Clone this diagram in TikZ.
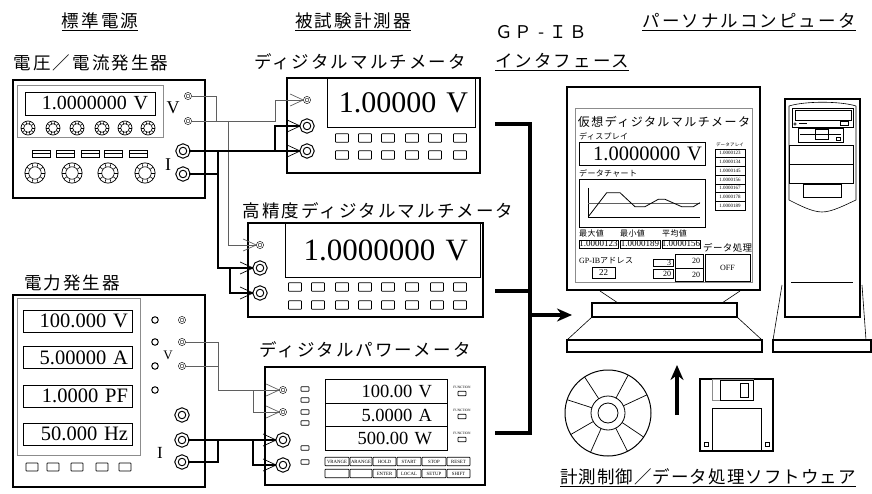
\documentclass[tikz,border=0pt]{standalone}
\usepackage{fontspec}
\setmainfont{Liberation Serif}
\newfontfamily\jpfont{Noto Sans CJK JP}[LetterSpace=12]
\newfontfamily\jpnarrow{Noto Sans CJK JP}[LetterSpace=4]
\usetikzlibrary{arrows.meta}
\definecolor{wiregray}{RGB}{95,95,95}
\definecolor{panelgray}{RGB}{140,140,140}

\tikzset{
  knob/.pic={
    \draw[line width=0.7pt] (0,0) circle (7);
    \draw[line width=0.6pt] (0,0) circle (4.3);
    \foreach \a in {0,36,...,324} \draw[line width=0.6pt] (\a:4.3) -- (\a:7);
  },
  slider/.pic={
    \draw[line width=0.6pt] (-9,-3.5) rectangle (9,3.5);
    \draw[line width=0.6pt] (-9,0) -- (9,0);
  }
}

\begin{document}
\begin{tikzpicture}[
    x=1pt,y=-1pt,
    title/.style={font=\jpfont\fontsize{17.5pt}{20pt}\selectfont,inner sep=0pt},
    uitext/.style={font=\jpnarrow\fontsize{8pt}{9pt}\selectfont,inner sep=0pt,anchor=west},
    devbox/.style={draw,line width=1.6pt,inner sep=0pt},
    panel/.style={draw=panelgray,line width=0.6pt},
    lcd/.style={draw,line width=0.8pt,inner sep=0pt,align=right},
    key/.style={draw,line width=0.6pt,rounded corners=0.6pt,inner sep=0pt},
    led/.style={draw,line width=0.7pt,rounded corners=0.6pt,minimum width=8,minimum height=4.5,inner sep=0pt},
    cell/.style={draw,line width=0.5pt,inner sep=0pt},
    smallterm/.style={circle,draw,double,double distance=0.9pt,line width=0.55pt,minimum size=5.5,inner sep=0pt},
    bigterm/.style={circle,draw,double,double distance=2pt,line width=1.1pt,minimum size=11,inner sep=0pt},
    openterm/.style={circle,draw,line width=1pt,minimum size=6.5,inner sep=0pt},
    vwire/.style={draw=wiregray,line width=0.8pt},
    iwire/.style={draw,line width=1.8pt},
    inlet/.style={-{Straight Barb[length=13pt,width=12pt,line width=0.7pt]}},
    bus/.style={line width=3.2pt},
    tinytext/.style={font=\fontsize{4.8pt}{5pt}\selectfont,inner sep=0pt}
  ]
  \useasboundingbox (0,0) rectangle (872,494);

  \node[title] (hdSource) at (100,22) {\underline{標準電源}};
  \node[title] (hdTarget) at (353,22) {\underline{被試験計測器}};
  \node[title,anchor=west] (hdBus) at (495,32) {ＧＰ\makebox[1em]{-}ＩＢ};
  \node[title,anchor=west] (hdBus2) at (495,62) {\underline{インタフェース}};
  \node[title] (hdPc) at (749,22) {\underline{パーソナルコンピュータ}};
  \node[title] (hdSoft) at (708,478) {\addfontfeature{LetterSpace=6}\underline{計測制御／データ処理ソフトウェア}};

  \node[title] (lbVgen) at (91,63) {電圧／電流発生器};
  \node[title] (lbDmm) at (360,62) {ディジタルマルチメータ};
  \node[title] (lbHp) at (378,211) {高精度ディジタルマルチメータ};
  \node[title] (lbPgen) at (72,283) {電力発生器};
  \node[title] (lbPm) at (365,350) {ディジタルパワーメータ};

  \node[devbox,minimum width=192,minimum height=118] (vgen) at (109,139) {};
  \draw[panel] (17,85) rectangle (163,137);
  \node[lcd,minimum width=130,minimum height=23,text width=116,font=\fontsize{20pt}{20pt}\selectfont] (vgenLcd) at (90,103.5) {1.0000000 V};
  \foreach \kx in {28,53,77,102,125,148} \pic at (\kx,128) {knob};
  \foreach \kx in {41,65,90,113,138} \pic at (\kx,153.5) {slider};
  \foreach \kx in {35,72,108,145} \pic[scale=1.45] at (\kx,173) {knob};
  \node[font=\fontsize{18pt}{18pt}\selectfont] at (173,108) {V};
  \node[font=\fontsize{18pt}{18pt}\selectfont] at (168,165) {I};
  \node[smallterm] (gvVa) at (188,96) {};
  \node[smallterm] (gvVb) at (188,121) {};
  \node[bigterm] (gvIa) at (183,151) {};
  \node[bigterm] (gvIb) at (183,174) {};

  \node[devbox,minimum width=193,minimum height=95] (dmm) at (383.5,125.5) {};
  \node[lcd,minimum width=148,minimum height=49,text width=134,font=\fontsize{30pt}{30pt}\selectfont] (dmmLcd) at (401,102.5) {1.00000 V};
  \foreach \bx in {342,365,388,412,435,460} \foreach \by in {138,155} \node[key,minimum width=13,minimum height=8.5] at (\bx,\by) {};
  \node[smallterm] (dmV) at (307,100) {};
  \node[bigterm] (dmIa) at (307,126) {};
  \node[bigterm] (dmIb) at (307,151) {};

  \node[devbox,minimum width=235,minimum height=94] (hpdmm) at (365.5,270) {};
  \node[lcd,minimum width=195,minimum height=54,text width=171,font=\fontsize{31pt}{31pt}\selectfont] (hpLcd) at (382.5,250) {1.0000000 V};
  \foreach \bx in {295,318,342,365,388,412,437,460} \foreach \by in {287,305} \node[key,minimum width=13,minimum height=8.5] at (\bx,\by) {};
  \node[smallterm] (hpV) at (260,245) {};
  \node[bigterm] (hpIa) at (260,268) {};
  \node[bigterm] (hpIb) at (260,293) {};

  \node[devbox,minimum width=192,minimum height=192] (pgen) at (109,391) {};
  \draw[panel] (17,298) rectangle (140,455);
  \foreach \ly/\txt in {321/100.000 V,357.5/5.00000 A,396/1.0000 PF,434/50.000 Hz}
    \node[lcd,minimum width=109,minimum height=22,text width=101,font=\fontsize{20.5pt}{20.5pt}\selectfont] at (77.5,\ly) {\txt};
  \foreach \bx in {32,53,77,102,125} \node[key,minimum width=12,minimum height=8] at (\bx,467) {};
  \foreach \ty in {320,342,366,390} \node[openterm] at (155,\ty) {};
  \node[smallterm] (pgVo) at (182,320) {};
  \node[smallterm] (pgVa) at (182,342) {};
  \node[smallterm] (pgVb) at (182,366) {};
  \node[font=\fontsize{13pt}{13pt}\selectfont] at (168,355) {V};
  \node[bigterm] (pgIa) at (182,415) {};
  \node[bigterm] (pgIb) at (182,440) {};
  \node[bigterm] (pgIc) at (182,462) {};
  \node[font=\fontsize{17pt}{17pt}\selectfont] at (160,453) {I};

  \node[devbox,minimum width=220,minimum height=118] (pmeter) at (375,426) {};
  \foreach \ly/\txt in {391.5/100.00 V,415/5.0000 A,438.5/500.00 W}
    \node[lcd,minimum width=122,minimum height=23.5,text width=92,font=\fontsize{18.5pt}{18.5pt}\selectfont] at (386,\ly) {\txt};
  \foreach \ly in {389,400,412,423,448,462} \node[led] at (305,\ly) {};
  \foreach \ly in {387,410,433} {
    \node[tinytext,font=\fontsize{3.4pt}{4pt}\selectfont] at (462,\ly) {FUNCTION};
    \node[led] at (462,\ly+6.5) {};
  }
  \foreach \xa/\xb/\txt in {325/349/VRANGE,350/372/ARANGE,373/396/HOLD,397/421/START,422/446/STOP,447/470/RESET}
    \node[key,tinytext,minimum width={\xb-\xa},minimum height=8.5] at ({(\xa+\xb)/2},461.5) {\txt};
  \foreach \xa/\xb/\txt in {325/349/{},350/372/{},373/396/ENTER,397/421/LOCAL,422/446/SETUP,447/470/SHIFT}
    \node[key,tinytext,minimum width={\xb-\xa},minimum height=8.5] at ({(\xa+\xb)/2},473.5) {\txt};
  \node[smallterm] (pmVa) at (283,390) {};
  \node[smallterm] (pmVb) at (283,412) {};
  \node[bigterm] (pmIa) at (283,440) {};
  \node[bigterm] (pmIb) at (283,465) {};

  \draw[vwire] (gvVa.east) -| (216,121);
  \draw[vwire,inlet] (gvVb.east) -- (275,121) |- (dmV);
  \draw[vwire,inlet] (228,121) |- (hpV);
  \draw[iwire,inlet] (gvIa.east) -- (dmIb);
  \draw[iwire,inlet] (275,151) |- (dmIa);
  \draw[iwire] (gvIb.east) -- (218,174);
  \draw[iwire,inlet] (218,151) |- (hpIa);
  \draw[iwire,inlet] (230,268) |- (hpIb);

  \draw[vwire,inlet] (pgVa.east) -| (218,390) -- (pmVa);
  \draw[vwire] (pgVb.east) -- (218,366);
  \draw[vwire,inlet] (253,390) |- (pmVb);
  \draw[iwire,inlet] (pgIb.east) -- (pmIa);
  \draw[iwire] (pgIc.east) -| (218,440);
  \draw[iwire,inlet] (253,440) |- (pmIb);

  \coordinate (busA) at (495,124);
  \coordinate (busB) at (495,291);
  \coordinate (busC) at (495,433);
  \coordinate (busJ) at (530,315);
  \coordinate (busEnd) at (572,315);
  \draw[bus] (busA) -- (530,124) -- (530,433) -- (busC);
  \draw[bus] (busB) -- (530,291);
  \draw[bus,-{Stealth[length=15pt,width=13pt]}] (busJ) -- (busEnd);

  \node[devbox,line width=1.8pt,minimum width=193,minimum height=203] (monitor) at (663.5,188.5) {};
  \draw[panel] (575,108) rectangle (752,282);
  \node[font=\jpfont\fontsize{12pt}{14pt}\selectfont,inner sep=0pt] at (664,122) {仮想ディジタルマルチメータ};
  \node[uitext] at (579,136) {ディスプレイ};
  \node[lcd,minimum width=126,minimum height=23,text width=120,font=\fontsize{20.5pt}{20.5pt}\selectfont] (pcLcd) at (642,153.5) {1.0000000 V};
  \node[font=\jpnarrow\fontsize{4.5pt}{5pt}\selectfont,inner sep=0pt] at (730,145) {データアレイ};
  \foreach \v [count=\k] in {1.0000123,1.0000134,1.0000145,1.0000156,1.0000167,1.0000178,1.0000189}
    \node[cell,minimum width=30,minimum height=8.7,font=\fontsize{5pt}{5pt}\selectfont] at (730,{149+8.7*(\k-0.5)}) {\v};
  \node[uitext] at (579,173) {データチャート};
  \draw[line width=0.8pt] (579,179) rectangle (705,227);
  \draw[line width=0.8pt] (588,188) -- (588,217) -- (700,217);
  \draw[wiregray,line width=0.8pt] (588,203.3) -- (700,203.3);
  \draw[line width=0.8pt] (588.3,216.7) -- (606.7,192.7) -- (620,192.7) -- (635,206.7) -- (645,206.7) -- (658.3,199.3) -- (665,199.3) -- (681.7,206.7) -- (693.3,206.7) -- (700,202.7);
  \node[uitext] at (579,233) {最大値};
  \node[uitext] at (620,233) {最小値};
  \node[uitext] at (662,233) {平均値};
  \node[cell,minimum width=39,minimum height=8,font=\fontsize{9pt}{9pt}\selectfont] at (598.5,244) {1.0000123};
  \node[cell,minimum width=40,minimum height=8,font=\fontsize{9pt}{9pt}\selectfont] at (640,244) {1.0000189};
  \node[cell,minimum width=38,minimum height=8,font=\fontsize{9pt}{9pt}\selectfont] at (681,244) {1.0000156};
  \node[uitext,font=\jpnarrow\fontsize{9.5pt}{10pt}\selectfont] at (703,248) {データ処理};
  \node[uitext] at (579,261) {\rmfamily GP-IB\jpnarrow アドレス};
  \node[cell,minimum width=23,minimum height=11,font=\fontsize{9pt}{9pt}\selectfont] at (603.5,272.5) {22};
  \node[cell,minimum width=20,minimum height=7,font=\fontsize{8pt}{8pt}\selectfont,text width=16,align=right] at (663,262.5) {3};
  \node[cell,minimum width=20,minimum height=9,font=\fontsize{8pt}{8pt}\selectfont,text width=16,align=right] at (663,273.5) {20};
  \node[cell,minimum width=28,minimum height=14,font=\fontsize{8pt}{8pt}\selectfont,text width=22,align=right] at (689,261) {20};
  \node[cell,minimum width=28,minimum height=13,font=\fontsize{8pt}{8pt}\selectfont,text width=22,align=right] at (689,274.5) {20};
  \node[cell,minimum width=45,minimum height=27,font=\fontsize{8pt}{8pt}\selectfont] at (727.5,267.5) {OFF};
  \draw[line width=0.6pt] (600,291) -- (618,303) (740,291) -- (722,303);
  \draw[line width=1.4pt] (592,303) rectangle (737,317);
  \draw[line width=0.6pt] (592,317) -- (567,340) (737,317) -- (762,340);
  \draw[line width=1.4pt] (567,340) rectangle (762,352);

  \node[devbox,minimum width=75,minimum height=218] (tower) at (822.5,208) {};
  \draw[line width=0.6pt] (789,106) .. controls (805,101) and (840,101) .. (856,106) -- (856,200) .. controls (845,205) and (832,212) .. (822,212) .. controls (812,212) and (799,205) .. (789,200) -- cycle;
  \draw[line width=0.8pt] (792,108) rectangle (853,127);
  \draw[line width=0.6pt] (795,110) rectangle (851,120);
  \draw[line width=0.6pt] (795,124) circle (1.2);
  \draw[line width=1pt] (799,124) -- (807,124);
  \draw[line width=0.6pt] (840,121) rectangle (848,125);
  \draw[line width=0.8pt] (798,128) rectangle (843,142);
  \draw[line width=0.6pt] (800,134) -- (841,134);
  \draw[line width=0.6pt] (815,129) rectangle (828,134) (815,134) rectangle (828,139);
  \draw[line width=0.6pt] (836,137) rectangle (840,140);
  \draw[line width=0.6pt] (789,145) rectangle (853,164) (789,164) rectangle (853,183);
  \draw[line width=0.6pt] (803,184) rectangle (841,197);
  \draw[line width=0.8pt] (791,282) -- (853,282);
  \draw[line width=0.6pt] (782,285) -- (773,340) (862,285) -- (866,340);
  \draw[line width=1.4pt] (773,340) rectangle (871,352);

  \node[circle,draw,line width=1pt,minimum size=86,inner sep=0pt] (disc) at (608,413) {};
  \begin{scope}[shift={(608,413)}]
    \draw[line width=0.8pt] (0,0) circle (17) (0,0) circle (10);
    \foreach \a in {25,62,123,162,210,246,297,326} \draw[line width=0.7pt] (-\a:17) -- (-\a:43);
  \end{scope}

  \coordinate (swTail) at (677,415);
  \coordinate (swHead) at (677,365);
  \draw[bus,-{Stealth[length=15pt,width=13pt]}] (swTail) -- (swHead);

  \node[devbox,line width=1.4pt,minimum width=73,minimum height=72] (floppy) at (736.5,415) {};
  \draw[panelgray,line width=0.6pt] (712,379) rectangle (753,400);
  \draw[line width=0.8pt] (720,380) rectangle (753,400);
  \draw[line width=0.6pt] (740,383) rectangle (748,397);
  \draw[line width=0.6pt] (712,408) rectangle (761,451);
  \draw[line width=0.6pt] (704,442) rectangle (708,446) (765,442) rectangle (769,446);
\end{tikzpicture}
\end{document}
